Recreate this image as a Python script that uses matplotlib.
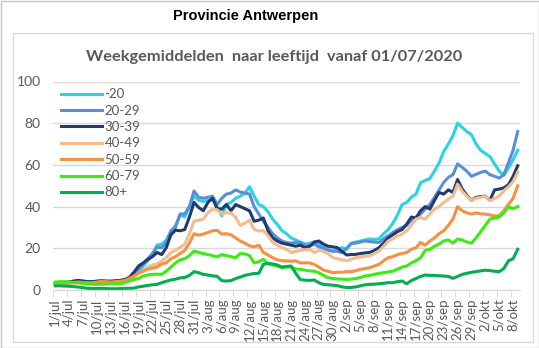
import matplotlib
matplotlib.use("Agg")
import matplotlib.pyplot as plt
from matplotlib.patches import Rectangle
import numpy as np
import datetime as dt

# Daily 7-day averages per age group, starting 01/07/2020
start = dt.date(2020, 7, 1)
n_days = 101
months = {7: "jul", 8: "aug", 9: "sep", 10: "okt"}
dates = [start + dt.timedelta(days=i) for i in range(n_days)]
day_labels = [f"{d.day}/{months[d.month]}" for d in dates]

age_groups = ["-20", "20-29", "30-39", "40-49", "50-59", "60-79", "80+"]

v_u20 = [3.0, 3.2, 3.3, 3.5, 3.8, 3.6, 3.5, 3.4, 3.3, 3.5, 3.8, 3.6, 3.5, 3.7, 4.0, 4.2, 4.8,
         6.5, 9.0, 11.5, 14.0, 17.0, 21.5, 22.0, 24.0, 28.0, 31.0, 36.0, 35.0, 40.0, 45.0,
         43.0, 42.5, 43.0, 43.5, 40.0, 35.5, 41.0, 42.0, 44.0, 45.0, 46.5, 49.5, 45.0, 41.0,
         40.0, 37.5, 34.0, 31.5, 28.5, 27.0, 25.0, 24.0, 23.0, 22.0, 22.5, 23.0, 22.0, 21.0,
         19.5, 18.5, 19.5, 20.3, 19.5, 22.5, 23.0, 23.5, 24.0, 24.5, 24.3, 24.5, 27.0, 29.0,
         32.0, 36.0, 41.0, 42.0, 44.5, 46.0, 51.5, 52.5, 53.5, 57.0, 61.0, 66.5, 70.0, 74.0,
         80.0, 78.0, 76.0, 74.5, 70.0, 67.0, 65.5, 64.0, 60.5, 57.0, 55.0, 58.5, 62.5, 67.0]

v_20_29 = [3.0, 3.3, 3.5, 3.8, 4.2, 4.4, 4.2, 4.0, 4.0, 4.2, 4.5, 4.3, 4.2, 4.3, 4.5, 4.8, 5.5,
           7.5, 10.0, 12.5, 15.0, 17.5, 20.5, 20.3, 22.5, 28.5, 30.0, 36.5, 36.5, 40.0, 47.5,
           44.5, 44.0, 44.5, 45.0, 41.0, 44.0, 46.0, 46.5, 48.0, 47.0, 46.5, 46.0, 40.0, 36.5,
           33.0, 30.0, 27.0, 25.0, 23.5, 22.8, 22.5, 22.8, 22.8, 21.5, 21.0, 22.0, 20.7, 20.0,
           19.0, 18.7, 18.5, 18.0, 20.0, 22.3, 22.5, 23.0, 23.5, 23.2, 23.0, 22.8, 24.5, 26.0,
           27.6, 29.0, 30.0, 31.0, 33.5, 35.0, 36.5, 38.8, 41.0, 44.4, 48.0, 51.6, 54.0, 55.3,
           60.5, 58.8, 57.0, 54.5, 55.5, 56.4, 57.0, 55.3, 54.5, 53.7, 55.3, 61.0, 67.0, 76.0]

v_30_39 = [3.2, 3.4, 3.6, 3.8, 4.3, 4.6, 4.3, 4.0, 4.0, 4.2, 4.4, 4.2, 4.2, 4.4, 4.6, 5.0, 6.0,
           8.5, 11.5, 13.0, 14.7, 16.0, 18.0, 17.0, 20.3, 26.5, 28.7, 28.4, 29.0, 35.0, 42.0,
           39.6, 38.0, 42.0, 44.0, 39.0, 38.8, 41.0, 38.0, 41.0, 40.0, 39.0, 38.0, 33.0, 33.5,
           34.5, 28.4, 25.0, 23.5, 22.5, 22.0, 21.5, 21.0, 21.5, 20.3, 21.0, 23.0, 23.5, 22.0,
           21.0, 20.7, 20.3, 18.5, 16.8, 17.0, 17.1, 17.5, 17.8, 18.0, 19.0, 20.3, 22.5, 25.0,
           26.5, 28.0, 29.0, 31.6, 35.0, 34.5, 38.0, 40.0, 38.8, 43.0, 46.8, 46.0, 48.0, 46.8,
           53.0, 48.4, 45.5, 43.0, 44.4, 44.8, 45.0, 43.0, 48.0, 48.4, 49.0, 50.5, 54.5, 59.6]

v_40_49 = [2.8, 3.0, 3.0, 3.2, 3.3, 3.3, 3.2, 3.0, 3.0, 3.2, 3.4, 3.3, 3.3, 3.5, 3.8, 4.2, 5.0,
           6.5, 8.0, 9.5, 11.0, 12.0, 12.5, 14.0, 15.5, 18.0, 19.0, 20.5, 22.0, 27.0, 33.0,
           33.5, 34.0, 37.0, 38.8, 38.5, 36.4, 37.0, 37.0, 34.8, 31.0, 32.0, 33.5, 29.0, 28.4,
           28.4, 26.0, 23.0, 21.5, 20.3, 19.5, 18.0, 18.5, 19.0, 19.3, 19.5, 18.0, 19.0, 18.5,
           17.5, 15.5, 15.0, 14.5, 14.0, 14.8, 15.5, 15.8, 16.2, 16.3, 17.5, 18.7, 21.0, 23.5,
           24.5, 26.0, 26.8, 28.4, 31.0, 34.0, 34.8, 34.0, 36.5, 38.8, 40.0, 42.0, 43.6, 45.0,
           50.8, 47.3, 45.0, 43.0, 44.0, 44.5, 45.0, 42.8, 44.0, 45.0, 47.6, 49.5, 52.0, 56.5]

v_50_59 = [3.0, 3.2, 3.3, 3.5, 3.6, 3.8, 3.6, 3.5, 3.5, 3.8, 4.2, 4.0, 3.8, 4.0, 4.2, 4.5, 5.5,
           6.7, 8.0, 9.0, 10.0, 10.5, 11.0, 12.5, 13.0, 15.0, 16.0, 17.5, 19.0, 22.5, 27.0,
           26.3, 26.8, 27.6, 28.4, 28.6, 26.8, 27.0, 26.5, 25.0, 23.5, 22.5, 21.2, 20.7, 21.5,
           18.0, 16.8, 15.5, 14.5, 14.0, 14.0, 13.8, 14.0, 13.0, 13.0, 13.0, 12.3, 11.0, 9.5,
           9.0, 8.3, 8.5, 8.5, 8.8, 8.8, 9.3, 9.9, 10.3, 10.7, 11.5, 12.3, 14.0, 15.5,
           16.0, 17.0, 17.5, 18.0, 19.5, 20.3, 22.8, 21.5, 23.5, 25.0, 27.0, 28.4, 31.0, 34.0,
           40.0, 38.0, 37.0, 36.4, 37.0, 36.5, 36.4, 36.0, 35.5, 35.6, 38.0, 41.0, 44.0, 50.0]

v_60_79 = [3.8, 4.0, 4.0, 3.8, 3.6, 3.5, 3.3, 3.0, 2.8, 2.7, 2.8, 2.8, 2.9, 2.9, 3.0, 3.5, 4.3,
           5.0, 5.5, 6.7, 7.2, 7.5, 7.6, 7.5, 9.0, 11.0, 13.0, 14.5, 15.0, 16.5, 18.7,
           18.0, 17.5, 17.0, 16.5, 15.9, 17.0, 16.5, 16.0, 15.5, 17.5, 17.3, 16.5, 13.0, 13.5,
           14.7, 12.5, 12.0, 11.5, 10.7, 11.0, 11.0, 10.0, 10.0, 9.5, 9.2, 9.0, 8.3, 7.0,
           5.9, 5.5, 5.3, 5.2, 5.1, 5.2, 5.5, 6.0, 6.7, 7.0, 7.5, 8.0, 8.3, 8.7,
           9.0, 10.0, 11.0, 11.5, 13.0, 14.0, 15.5, 19.0, 19.5, 21.0, 22.0, 23.5, 24.0, 22.5,
           24.5, 24.0, 23.0, 22.5, 25.0, 28.0, 31.0, 34.0, 34.5, 35.0, 37.0, 40.0, 39.0, 40.0]

v_80plus = [2.0, 2.0, 1.9, 1.8, 1.6, 1.4, 1.1, 0.8, 0.7, 0.7, 0.8, 0.7, 0.6, 0.6, 0.7, 0.8, 0.8,
            0.9, 1.5, 1.8, 2.2, 2.5, 2.7, 3.5, 4.2, 4.8, 5.2, 5.8, 6.0, 7.0, 8.8,
            8.3, 7.5, 7.2, 6.8, 6.5, 4.5, 4.3, 4.5, 5.5, 6.2, 7.0, 7.5, 7.9, 8.0,
            12.3, 12.8, 12.5, 12.0, 11.0, 11.3, 11.5, 8.0, 5.0, 4.7, 4.6, 4.8, 3.5, 2.7,
            2.5, 2.3, 2.1, 1.5, 1.2, 1.2, 1.5, 2.0, 2.5, 2.7, 2.8, 3.0, 3.2, 3.5,
            3.5, 4.0, 4.3, 3.0, 4.5, 5.5, 6.5, 7.2, 7.0, 7.0, 6.8, 6.7, 6.5, 5.6,
            6.5, 7.5, 8.0, 8.5, 8.8, 9.2, 9.5, 9.3, 9.0, 8.8, 10.3, 14.0, 15.0, 19.5]

series = [v_u20, v_20_29, v_30_39, v_40_49, v_50_59, v_60_79, v_80plus]
colors = ["#29D3E6", "#5B8ED8", "#1F3B70", "#F6BB8A", "#F79040", "#3CEB14", "#00B050"]

W, H = 539, 348
fig = plt.figure(figsize=(W / 100, H / 100), dpi=100)
fig.patch.set_facecolor("white")

def px_rect(x0, y0, x1, y1):
    return [x0 / W, 1 - y1 / H, (x1 - x0) / W, (y1 - y0) / H]

# outer image frame and inner chart frame
fig.patches.append(Rectangle((0.5 / W, 0.5 / H), (W - 1) / W, (H - 1) / H,
                             transform=fig.transFigure, fill=False,
                             edgecolor="#c4c4c4", linewidth=1.0))
fig.patches.append(Rectangle((13 / W, 1 - 342 / H), (533 - 13) / W, (342 - 33) / H,
                             transform=fig.transFigure, fill=False,
                             edgecolor="#d9d9d9", linewidth=1.0))

fig.text(246 / W, 1 - 16 / H, "Provincie Antwerpen", ha="center", va="center",
         fontsize=10.5, fontweight="bold", family="Liberation Sans", color="black")
fig.text(274 / W, 1 - 57 / H, "Weekgemiddelden  naar leeftijd  vanaf 01/07/2020",
         ha="center", va="center", fontsize=11.8, fontweight="bold",
         family="Lato", color="#595959")

ax = fig.add_axes(px_rect(53, 81.5, 520, 290))
x = np.arange(n_days)
for name, vals, c in zip(age_groups, series, colors):
    ax.plot(x, vals, color=c, linewidth=2.2, label=name, solid_joinstyle="round")

ax.set_xlim(-0.5, n_days - 0.5)
ax.set_ylim(0, 100)
ax.set_yticks([0, 20, 40, 60, 80, 100])
ax.yaxis.grid(True, color="#d9d9d9", linewidth=1.0)
ax.set_axisbelow(True)
for side in ["left", "right", "top"]:
    ax.spines[side].set_visible(False)
ax.spines["bottom"].set_color("#d9d9d9")
ax.tick_params(axis="y", length=0, pad=9, labelsize=10, labelcolor="#595959")

label_idx = list(range(0, n_days, 3))
ax.set_xticks(label_idx)
ax.set_xticklabels([day_labels[i] for i in label_idx], rotation=90,
                   fontsize=9.5, color="#595959", family="Lato")
ax.set_xticks(np.arange(-0.5, n_days, 3), minor=True)
ax.tick_params(axis="x", which="major", length=0, pad=6)
ax.tick_params(axis="x", which="minor", length=5, color="#d9d9d9")
for lbl in ax.get_yticklabels():
    lbl.set_family("Lato")

leg = ax.legend(loc="upper left", bbox_to_anchor=(0.0, 1.005), frameon=False,
                handlelength=3.1, handletextpad=0.2, labelspacing=0.33,
                borderaxespad=0.2, prop={"family": "Lato", "size": 9.5})
for t in leg.get_texts():
    t.set_color("#595959")

fig.savefig("out.png", dpi=100)
